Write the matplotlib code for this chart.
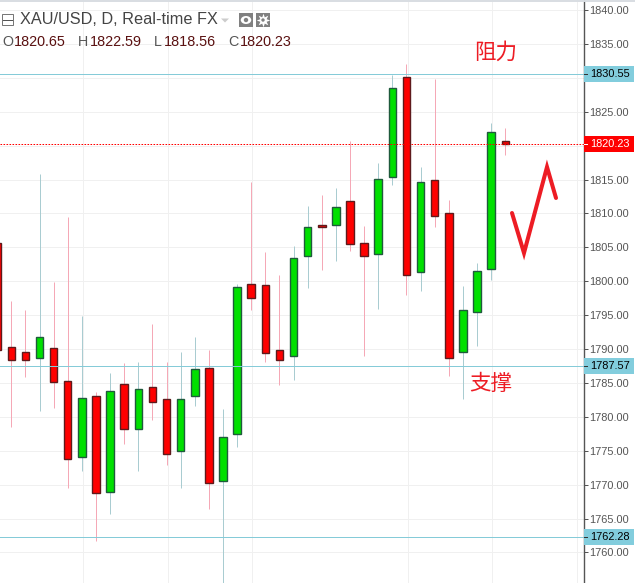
import matplotlib
matplotlib.use('Agg')
import matplotlib.pyplot as plt
from matplotlib.patches import Rectangle, Circle, Ellipse, Polygon

# Daily candles, oldest first (first one is cut off by the left edge)
opens = [1805.6, 1790.35, 1789.55, 1788.75, 1790.1, 1785.35, 1774.15, 1783.05, 1768.9, 1784.8,
         1778.15, 1784.35, 1782.6, 1774.95, 1783.05, 1787.15, 1770.5, 1777.45, 1799.55, 1799.4,
         1789.8, 1788.95, 1803.7, 1808.25, 1808.25, 1811.8, 1805.6, 1804.0, 1815.45, 1830.1,
         1801.35, 1814.9, 1810.05, 1789.55, 1795.45, 1801.75, 1820.65]
highs = [1805.6, 1797.1, 1795.75, 1815.85, 1799.9, 1809.45, 1794.9, 1783.65, 1786.45, 1787.9,
         1788.1, 1793.7, 1788.1, 1789.55, 1791.8, 1789.85, 1781.1, 1799.6, 1814.65, 1804.3,
         1800.95, 1805.2, 1811.1, 1812.75, 1813.75, 1820.7, 1808.15, 1817.45, 1830.45, 1832.05,
         1816.8, 1829.85, 1812.0, 1799.3, 1802.7, 1823.35, 1822.59]
lows = [1789.87, 1778.55, 1785.95, 1780.9, 1781.35, 1769.55, 1772.05, 1761.75, 1765.7, 1776.05,
        1772.05, 1779.6, 1772.95, 1769.55, 1781.65, 1766.45, 1755.0, 1775.6, 1795.75, 1788.15,
        1784.7, 1785.45, 1799.05, 1801.7, 1803.05, 1804.5, 1789.0, 1795.95, 1814.25, 1798.0,
        1798.55, 1808.05, 1786.1, 1782.7, 1790.5, 1800.25, 1818.56]
closes = [1789.87, 1788.45, 1788.45, 1791.85, 1785.1, 1773.75, 1782.75, 1768.75, 1783.8, 1778.15,
          1784.05, 1782.15, 1774.5, 1782.6, 1787.0, 1770.2, 1777.1, 1799.1, 1797.6, 1789.4,
          1788.35, 1803.4, 1807.95, 1808.05, 1810.9, 1805.45, 1803.7, 1815.05, 1828.45, 1800.9,
          1814.6, 1809.6, 1788.65, 1795.7, 1801.45, 1822.0, 1820.23]

price_ticks = [1760, 1765, 1770, 1775, 1780, 1785, 1790, 1795, 1800, 1805, 1810, 1815, 1820,
               1825, 1830, 1835, 1840]
hidden_labels = [1820, 1830]  # covered by the price tags
grid_days = [6, 12, 18, 29, 35, 41]
level_prices = [1830.55, 1787.57, 1762.28]
last_price = 1820.23
legend_values = ['1820.65', '1822.59', '1818.56', '1820.23']
legend_names = ['O', 'H', 'L', 'C']

# Hand drawn arrow on the screenshot
stroke_x = [512, 524, 547, 556]
stroke_y = [213, 253, 167, 198]

W, H = 635, 583
PANEL = 584.0
fig = plt.figure(figsize=(W / 100, H / 100), dpi=100, facecolor='white')
ax = fig.add_axes([0, 0, PANEL / W, 1])

px = 0.72  # one pixel in points
days = list(range(len(opens)))

ax.set_xlim(0.199, 41.58)
ax.set_ylim(1755.5, 1841.49)

# grid
for d in grid_days:
    ax.axvline(d + 0.08, color='#f0f0f0', lw=px, zorder=1)
for p in price_ticks:
    ax.axhline(p, color='#f0f0f0', lw=px, zorder=1)

# candles
for i in days:
    up = closes[i] >= opens[i]
    wick = '#a9ccd1' if up else '#f5a8b6'
    fill = '#00e000' if up else '#ff0000'
    edge = '#1f5a3c' if up else '#5e1a1c'
    ax.vlines(i, lows[i], highs[i], color=wick, lw=px, zorder=2)
    ax.bar(i, abs(closes[i] - opens[i]), bottom=min(opens[i], closes[i]), width=0.53,
           color=fill, edgecolor=edge, linewidth=1.0, zorder=3)

# levels
for p in level_prices:
    ax.axhline(p, color='#85cbd8', lw=px, zorder=4)
ax.axhline(last_price, color='#ff0000', lw=px, ls=(0, (1.6, 1.4)), zorder=4)

# price axis
for s in ['top', 'left', 'bottom']:
    ax.spines[s].set_visible(False)
ax.spines['right'].set_color('#555555')
ax.spines['right'].set_linewidth(1.0)
ax.yaxis.tick_right()
ax.set_yticks(price_ticks)
ax.set_yticklabels(['' if p in hidden_labels else f'{p:.2f}' for p in price_ticks],
                   family='Liberation Sans', fontsize=7.9, color='#555555')
ax.tick_params(axis='y', length=3, width=px, color='#555555', pad=1)
ax.set_xticks([])

# price tags
tags = [(level_prices[0], '#82cddd', 'black'), (level_prices[1], '#82cddd', 'black'),
        (level_prices[2], '#82cddd', 'black'), (last_price, '#ff0000', 'white')]
trans = ax.get_yaxis_transform()
for p, bg, fg in tags:
    ax.add_patch(Rectangle((1.0, p - 8 / 6.78), (W - 1 - PANEL) / PANEL, 16 / 6.78, transform=trans,
                           facecolor=bg, edgecolor='none', clip_on=False, zorder=5))
    ax.plot([1.0, 1.0 + 3 / PANEL], [p, p], transform=trans, color='#333333' if fg == 'black' else 'white',
            lw=px, clip_on=False, zorder=6)
    ax.text(1.0 + 6.5 / PANEL, p, f'{p:.2f}', transform=trans, family='Liberation Sans', fontsize=7.9,
            color=fg, va='center', ha='left', clip_on=False, zorder=6)

# overlay in screen pixels for the header and the drawings
ov = fig.add_axes([0, 0, 1, 1], facecolor='none')
ov.set_xlim(0, W)
ov.set_ylim(H, 0)
ov.axis('off')

ov.plot([0, W], [0.5, 0.5], color='#d8dde2', lw=1.4)

ov.add_patch(Rectangle((1.5, 13.5), 11.5, 11.5, facecolor='white', edgecolor='#777777', lw=px))
ov.plot([3, 11.5], [19.5, 19.5], color='#555555', lw=px)
ov.text(20, 19.5, 'XAU/USD, D, Real-time FX', family='Liberation Sans', fontsize=11.7, color='#444444',
        va='center', ha='left')
ov.add_patch(Polygon([[221, 18.5], [229, 18.5], [225, 22.5]], facecolor='#cccccc', edgecolor='none'))
ov.add_patch(Rectangle((239, 13), 14, 14, facecolor='#808080', edgecolor='none'))
ov.add_patch(Ellipse((246, 20), 10.5, 8, facecolor='white', edgecolor='none'))
ov.add_patch(Circle((246, 20), 2.2, facecolor='#808080', edgecolor='none'))
ov.add_patch(Rectangle((256, 13), 14, 14, facecolor='#808080', edgecolor='none'))
ov.scatter([263], [20], marker=(8, 1, 0), s=95, color='white', linewidths=0)
ov.add_patch(Circle((263, 20), 1.7, facecolor='#808080', edgecolor='none'))

name_x = [2, 78, 154, 228]
value_x = [14, 90, 164, 240]
for nm, nx, val, vx in zip(legend_names, name_x, legend_values, value_x):
    ov.text(nx, 42, nm, family='Liberation Sans', fontsize=10.3, color='#555555', va='center', ha='left')
    ov.text(vx, 42, val, family='Liberation Sans', fontsize=10.4, color='#5a1010', va='center', ha='left')

ov.plot(stroke_x, stroke_y, color='#ed1c24', lw=2.9, solid_joinstyle='miter', solid_capstyle='round')
ov.text(496, 53, '阻力', family='Noto Sans CJK SC', fontsize=15.5, color='#ed1c24', va='center', ha='center')
ov.text(491, 384, '支撑', family='Noto Sans CJK SC', fontsize=15.5, color='#ed1c24', va='center', ha='center')

plt.savefig('out.png', dpi=100)
